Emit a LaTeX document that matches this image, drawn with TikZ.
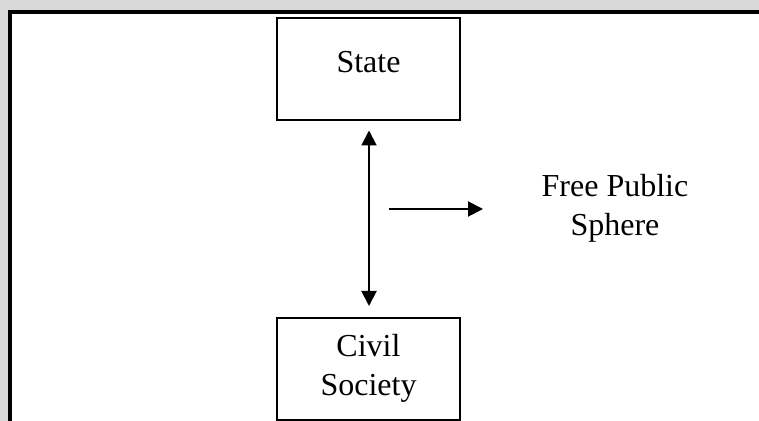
\documentclass[tikz,border=0pt]{standalone}
\usepackage{fontspec}
\setmainfont{Liberation Serif}
\usetikzlibrary{arrows.meta}
\definecolor{bggray}{HTML}{D9D9D9}
\begin{document}
\begin{tikzpicture}[x=0.5pt,y=-0.5pt,
  box/.style={draw=black,line width=1pt,fill=white,minimum width=91.5pt,minimum height=51pt,inner sep=0pt},
  lbl/.style={font=\fontsize{16}{19.5}\selectfont,align=center,inner sep=0pt},
  conn/.style={line width=1pt,-{Triangle[length=7.5pt,width=7.5pt]}}]
\useasboundingbox (0,0) rectangle (759,421);
\clip (0,0) rectangle (759,421);
\fill[bggray] (0,0) rectangle (759,421);
\fill[white] (10,12) rectangle (780,440);
\draw[line width=2pt] (10,440) -- (10,12) -- (780,12);
\node[box] (state) at (368.5,69.5) {};
\node[lbl] (statetext) at (368.5,62) {State};
\node[box] (civil) at (368.5,369) {};
\node[lbl] (civiltext) at (368.5,368) {Civil\\Society};
\draw[conn,{Triangle[length=7.5pt,width=7.5pt]}-{Triangle[length=7.5pt,width=7.5pt]},shorten <=4.5pt,shorten >=5.5pt] ([xshift=0.25pt]state.south) -- ([xshift=0.25pt]civil.north);
\node[lbl] (sphere) at (615,208) {Free Public\\Sphere};
\coordinate (hstart) at (389,209);
\coordinate (hend) at (483,209);
\draw[conn] (hstart) -- (hend);
\end{tikzpicture}
\end{document}
